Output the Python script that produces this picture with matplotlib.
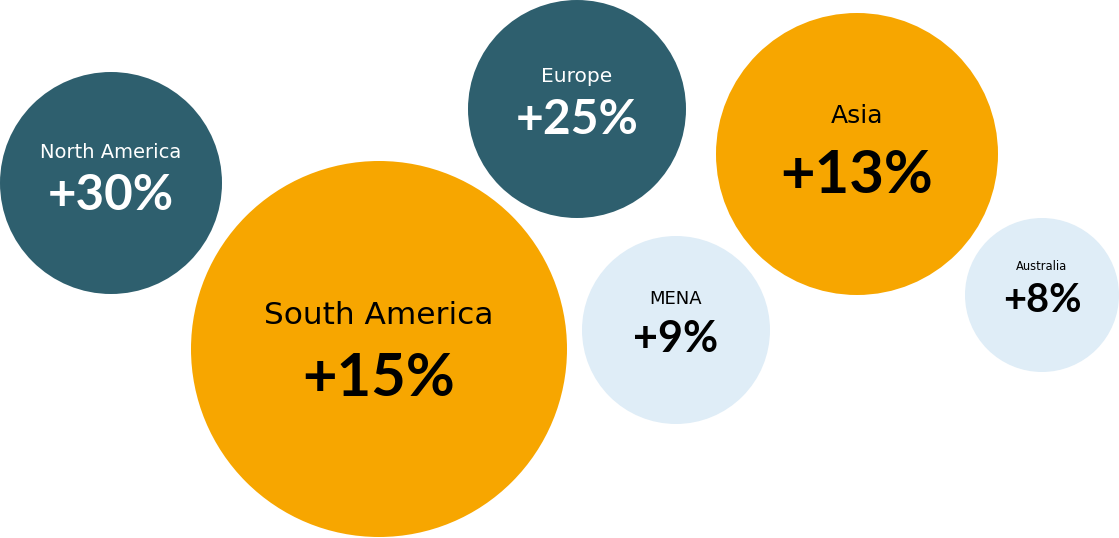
import matplotlib.pyplot as plt
from matplotlib.patches import Circle

# Data
regions = ['North America', 'South America', 'Europe', 'MENA', 'Asia', 'Australia']
growth = [30, 15, 25, 9, 13, 8]

# Layout (pixel space of the 1119x538 canvas)
centers_x = [111, 379, 577, 676, 857, 1042]
centers_y = [183, 349, 109, 330, 154, 295]
radii = [111, 188, 109, 94, 141, 77]
label_dy = [-31, -33, -32, -31, -38, -29]
value_dy = [12, 30, 11, 9, 22, 5]
label_size = [14, 22.5, 14.5, 13, 18, 8.3]
value_size = [35.5, 43, 34.5, 31, 43, 28.5]

teal = '#2E5F6E'
orange = '#F7A600'
light = '#DFEDF7'
fills = [teal, orange, teal, light, orange, light]
text_cols = ['white', 'black', 'white', 'black', 'black', 'black']

fig = plt.figure(figsize=(11.19, 5.38), dpi=100)
ax = fig.add_axes([0, 0, 1, 1])
ax.set_xlim(0, 1119)
ax.set_ylim(538, 0)
ax.set_aspect('equal')
ax.axis('off')

for i, name in enumerate(regions):
    cx, cy = centers_x[i], centers_y[i]
    ax.add_patch(Circle((cx, cy), radii[i], color=fills[i], lw=0))
    ax.text(cx, cy + label_dy[i], name, ha='center', va='center',
            fontsize=label_size[i], color=text_cols[i], family='DejaVu Sans')
    ax.text(cx, cy + value_dy[i], f'+{growth[i]}%', ha='center', va='center',
            fontsize=value_size[i], color=text_cols[i], family='Lato',
            fontweight='bold')

fig.savefig('out.png', dpi=100)
